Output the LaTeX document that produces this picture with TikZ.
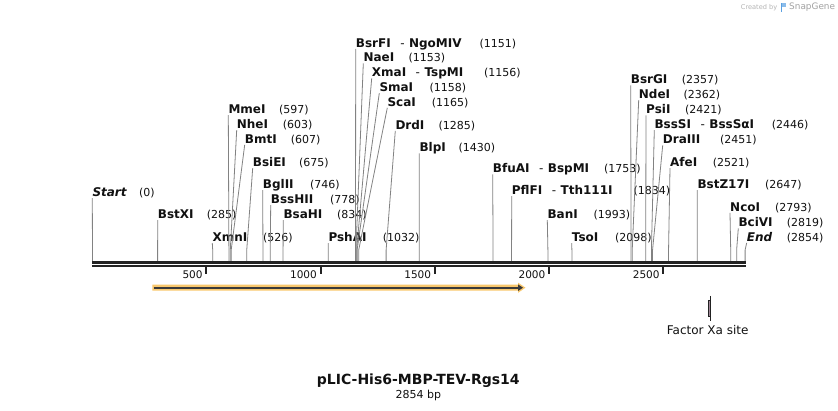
\documentclass[tikz,border=0pt]{standalone}
\usepackage{fontspec}
\setmainfont{DejaVu Sans}
\usetikzlibrary{calc}
\definecolor{axisc}{RGB}{34,34,34}
\definecolor{sitec}{RGB}{130,130,130}
\definecolor{txtc}{RGB}{17,17,17}
\definecolor{orf}{RGB}{249,200,110}
\definecolor{orfdark}{RGB}{58,58,58}
\definecolor{xa}{RGB}{160,136,152}
\definecolor{wmgray}{RGB}{180,180,180}
\definecolor{wmblue}{RGB}{90,160,225}
% #1 id, #2 label x, #3 label y (centre), #4 site bp, #5 name, #6 number x, #7 number
\newcommand\enzyme[7]{%
  \node[enz] (#1) at (#2,#3+4.4) {#5};
  \node[num] (#1-n) at (#6,#3+4.4) {#7};
  \pgfmathsetmacro\sitex{92.5+#4*0.2285}
  \coordinate (#1-b) at (\sitex,250);
  \coordinate (#1-s) at (\sitex,261);
  \draw[siteln] (#1.south west) -- (#1-b) -- (#1-s);
}
\newcommand\hy{\hspace{9.5pt}{\mdseries-}\hspace{4.5pt}}
\begin{document}
\begin{tikzpicture}[x=1pt,y=-1pt,
  enz/.style={inner xsep=0pt,inner ysep=1.5pt,text depth=0pt,anchor=base west,
    font=\fontsize{12}{14}\selectfont\bfseries,text=txtc},
  enzit/.style={enz,font=\fontsize{12}{14}\selectfont\bfseries\itshape},
  num/.style={inner sep=0pt,anchor=base west,font=\fontsize{11}{13}\selectfont,text=txtc},
  siteln/.style={draw=sitec,line width=0.8pt},
  tickln/.style={draw=axisc,line width=2pt},
  ticklbl/.style={inner sep=0pt,anchor=east,font=\fontsize{10.5}{12}\selectfont,text=txtc},
]
\useasboundingbox (0,0) rectangle (838,411);
\fill[white] (0,0) rectangle (838,411);

% enzymes
\node[enzit] (start) at (92.3,192+4.4) {Start};
\node[num] (start-n) at (139,192+4.4) {(0)};
\coordinate (start-b) at (92.5,250);
\coordinate (start-s) at (92.5,261);
\draw[siteln] (start.south west) -- (start-s);

\enzyme{bstxi}{157.7}{214}{285}{BstXI}{206.7}{(285)}
\enzyme{xmni}{212.3}{237}{526}{XmnI}{263}{(526)}
\enzyme{mmei}{228.3}{109}{597}{MmeI}{279}{(597)}
\enzyme{nhei}{236.7}{124}{603}{NheI}{282.7}{(603)}
\enzyme{bmti}{244.7}{138.7}{607}{BmtI}{290.7}{(607)}
\enzyme{bsiei}{252.7}{162}{675}{BsiEI}{299}{(675)}
\enzyme{bglii}{262.7}{184}{746}{BglII}{310}{(746)}
\enzyme{bsshii}{270.7}{199}{778}{BssHII}{330}{(778)}
\enzyme{bsahi}{283.3}{214}{834}{BsaHI}{337}{(834)}
\enzyme{pshai}{328.3}{237}{1032}{PshAI}{382.7}{(1032)}
\enzyme{bsrfi}{355.7}{42.7}{1151}{BsrFI\hy NgoMIV}{479.3}{(1151)}
\enzyme{naei}{363.3}{57.3}{1153}{NaeI}{408.3}{(1153)}
\enzyme{xmai}{371.7}{72.3}{1156}{XmaI\hy TspMI}{484}{(1156)}
\enzyme{smai}{379.3}{87}{1158}{SmaI}{429.3}{(1158)}
\enzyme{scai}{387.3}{101.7}{1165}{ScaI}{431.7}{(1165)}
\enzyme{drdi}{395.3}{124.7}{1285}{DrdI}{438.3}{(1285)}
\enzyme{blpi}{419.3}{147.3}{1430}{BlpI}{458.3}{(1430)}
\enzyme{bfuai}{492.7}{168.3}{1753}{BfuAI\hy BspMI}{604}{(1753)}
\enzyme{pflfi}{511.7}{190}{1834}{PflFI\hy Tth111I}{633.3}{(1834)}
\enzyme{bani}{547.3}{214}{1993}{BanI}{593.3}{(1993)}
\enzyme{tsoi}{571.7}{237}{2098}{TsoI}{615}{(2098)}
\enzyme{bsrgi}{630.7}{79.3}{2357}{BsrGI}{681.7}{(2357)}
\enzyme{ndei}{638.7}{94}{2362}{NdeI}{683.3}{(2362)}
\enzyme{psii}{646}{109.3}{2421}{PsiI}{685}{(2421)}
\enzyme{bsssi}{654.3}{124}{2446}{BssSI\hy BssSαI}{771.7}{(2446)}
\enzyme{draiii}{662.7}{139.3}{2451}{DraIII}{720}{(2451)}
\enzyme{afei}{670}{162}{2521}{AfeI}{712.7}{(2521)}
\enzyme{bstz}{697.3}{184}{2647}{BstZ17I}{765}{(2647)}
\enzyme{ncoi}{730}{206.7}{2793}{NcoI}{775}{(2793)}
\enzyme{bcivi}{738.3}{222.3}{2819}{BciVI}{786.7}{(2819)}
\node[enzit] (endl) at (746.7,236.7+4.4) {End};
\node[num] (endl-n) at (786.7,236.7+4.4) {(2854)};
\coordinate (endl-b) at (745.1,250);
\coordinate (endl-s) at (745.1,261);
\draw[siteln] (endl.south west) -- (endl-b) -- (endl-s);

% axis
\coordinate (axL) at (92,0);
\coordinate (axR) at (746,0);
\draw[axisc,line width=2.6pt] (axL |- 0,262.4) -- (axR |- 0,262.4);
\draw[axisc,line width=2.3pt] (axL |- 0,266.3) -- (axR |- 0,266.3);
\foreach \v in {500,1000,1500,2000,2500}{
  \pgfmathsetmacro\tx{92+\v*0.2285}
  \coordinate (tk\v) at (\tx,267);
  \draw[tickln] (tk\v) -- ++(0,7);
  \node[ticklbl] (tl\v) at (\tx-3.5,274.5) {\v};
}

% ORF arrow
\fill[orf] (152.3,284.7) -- (518,284.7) -- (518,282.6) -- (525.5,287.7) -- (518,292.8) -- (518,290.7) -- (152.3,290.7) -- cycle;
\draw[orfdark,line width=2pt] (153.8,287.7) -- (519,287.7);
\fill[orfdark] (518,284.4) -- (523,287.7) -- (518,291) -- cycle;

% Factor Xa site
\draw[axisc,line width=0.9pt] (710.3,296) -- (710.3,321);
\filldraw[fill=xa,draw=axisc,line width=0.6pt] (708.2,300) rectangle (710.3,316.7);
\node[inner sep=0pt,font=\fontsize{12}{14}\selectfont,text=txtc] (xalbl) at (707.7,330) {Factor Xa site};

% title
\node[inner sep=0pt,font=\fontsize{14}{16}\selectfont\bfseries,text=txtc] (title) at (418.3,381) {pLIC-His6-MBP-TEV-Rgs14};
\node[inner sep=0pt,font=\fontsize{11}{13}\selectfont,text=txtc] (bp) at (418.3,395.3) {2854 bp};

% watermark
\node[inner sep=0pt,anchor=west,font=\fontsize{6.6}{8}\selectfont,text=wmgray] (wm1) at (740.7,7.5) {Created by};
\fill[wmblue] (780.5,3) rectangle (782.3,12);
\fill[wmblue!70] (782.3,3) rectangle (786,7);
\node[inner sep=0pt,anchor=west,font=\fontsize{8.9}{10}\selectfont,text=wmgray!90!black] (wm2) at (789,7.5) {SnapGene};
\end{tikzpicture}
\end{document}
